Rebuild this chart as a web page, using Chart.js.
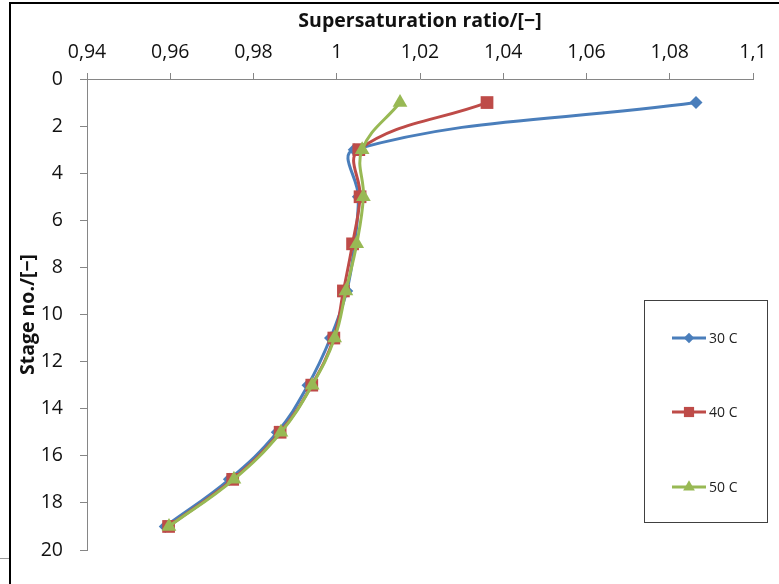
<!DOCTYPE html>
<html>
<head>
<meta charset="utf-8">
<script src="https://cdn.jsdelivr.net/npm/chart.js@4"></script>
<style>
  body { margin: 0; background: #fff; }
  #wrap { width: 779px; height: 584px; }
</style>
</head>
<body>
<div id="wrap"><canvas id="chart" width="779" height="584"></canvas></div>
<script>
// stage numbers (y) and supersaturation ratio per temperature (x)
const stages = [1, 3, 5, 7, 9, 11, 13, 15, 17, 19];
const labels = ['30 C', '40 C', '50 C'];
const s30 = [1.0863, 1.0042, 1.0052, 1.0043, 1.0024, 0.9985, 0.9931, 0.9857, 0.9742, 0.9588];
const s40 = [1.0361, 1.0053, 1.0056, 1.0038, 1.0016, 0.9993, 0.9940, 0.9864, 0.9750, 0.9596];
const s50 = [1.0152, 1.0061, 1.0064, 1.0048, 1.0022, 0.9995, 0.9941, 0.9866, 0.9753, 0.9597];

const colors = ['#4a7ebb', '#be4b48', '#98b954'];
const markers = ['rectRot', 'rect', 'triangle'];
const markerSizes = [6.5, 9, 8.5];

const axisColor = '#868686';
const fontFamily = '"Open Sans", sans-serif';

function toPoints(vals) {
    return vals.map((v, i) => ({ x: v, y: stages[i] }));
}

const datasets = [s30, s40, s50].map((vals, i) => ({
    label: labels[i],
    data: toPoints(vals),
    showLine: true,
    order: 2 - i, // green on top, blue at the bottom
    borderColor: colors[i],
    backgroundColor: colors[i],
    borderWidth: 3,
    tension: 0.4,
    pointStyle: markers[i],
    pointRadius: markerSizes[i],
    pointHoverRadius: markerSizes[i],
    pointBorderWidth: 0
}));

// outer frame like the pasted Excel chart
const framePlugin = {
    id: 'frame',
    beforeDraw(chart) {
        const ctx = chart.ctx;
        ctx.save();
        ctx.fillStyle = '#fff';
        ctx.fillRect(0, 0, chart.width, chart.height);
        ctx.strokeStyle = '#000';
        ctx.lineWidth = 2;
        ctx.beginPath();
        ctx.moveTo(10, chart.height);
        ctx.lineTo(10, 3);
        ctx.lineTo(chart.width, 3);
        ctx.stroke();
        ctx.strokeStyle = '#999';
        ctx.lineWidth = 1;
        ctx.beginPath();
        ctx.moveTo(0, 558.5);
        ctx.lineTo(9, 558.5);
        ctx.stroke();
        ctx.restore();
    }
};

// legend inside a box on the right
const legendBoxPlugin = {
    id: 'legendBox',
    afterDraw(chart) {
        const ctx = chart.ctx;
        const rows = [338, 412, 487];
        ctx.save();
        ctx.strokeStyle = '#404040';
        ctx.lineWidth = 1;
        ctx.strokeRect(644.5, 300.5, 123, 222);
        chart.data.datasets.forEach((ds, i) => {
            const y = rows[i];
            ctx.strokeStyle = ds.borderColor;
            ctx.lineWidth = 3;
            ctx.beginPath();
            ctx.moveTo(672, y);
            ctx.lineTo(706, y);
            ctx.stroke();
            ctx.fillStyle = ds.backgroundColor;
            Chart.helpers.drawPoint(ctx, {
                pointStyle: ds.pointStyle,
                radius: ds.pointRadius * 0.8,
                rotation: 0,
                borderWidth: 0
            }, 689, y);
            ctx.fillStyle = '#222';
            ctx.font = '14px ' + fontFamily;
            ctx.textBaseline = 'middle';
            ctx.textAlign = 'left';
            ctx.fillText(ds.label, 709, y + 1);
        });
        ctx.restore();
    }
};

function commaTick(v) {
    return Number(v.toFixed(2)).toString().replace('.', ',');
}

new Chart(document.getElementById('chart'), {
    type: 'scatter',
    data: { datasets: datasets },
    options: {
        responsive: false,
        animation: false,
        layout: { padding: { left: 0, top: 0, right: 26, bottom: 34 } },
        plugins: {
            legend: { display: false },
            tooltip: { enabled: false }
        },
        scales: {
            x: {
                position: 'top',
                min: 0.94,
                max: 1.1,
                afterFit: s => { s.height = 79; },
                border: { display: true, color: axisColor, width: 1 },
                grid: { drawOnChartArea: false, drawTicks: true, tickLength: 6, color: axisColor },
                ticks: {
                    stepSize: 0.02,
                    padding: 9,
                    color: '#111',
                    font: { family: fontFamily, size: 19.5 },
                    callback: commaTick
                },
                title: {
                    display: true,
                    text: 'Supersaturation ratio/[−]',
                    color: '#111',
                    font: { family: fontFamily, size: 19.5, weight: 'bold' },
                    padding: { top: 10, bottom: 0 }
                }
            },
            y: {
                reverse: true,
                min: 0,
                max: 20,
                afterFit: s => { s.width = 87; },
                border: { display: true, color: axisColor, width: 1 },
                grid: { drawOnChartArea: false, drawTicks: true, tickLength: 7, color: axisColor },
                ticks: {
                    stepSize: 2,
                    padding: 17,
                    color: '#111',
                    font: { family: fontFamily, size: 19.5 }
                },
                title: {
                    display: true,
                    text: 'Stage no./[−]',
                    color: '#111',
                    font: { family: fontFamily, size: 19.5, weight: 'bold' },
                    padding: { top: 17, bottom: 0 }
                }
            }
        }
    },
    plugins: [framePlugin, legendBoxPlugin]
});
</script>
</body>
</html>
